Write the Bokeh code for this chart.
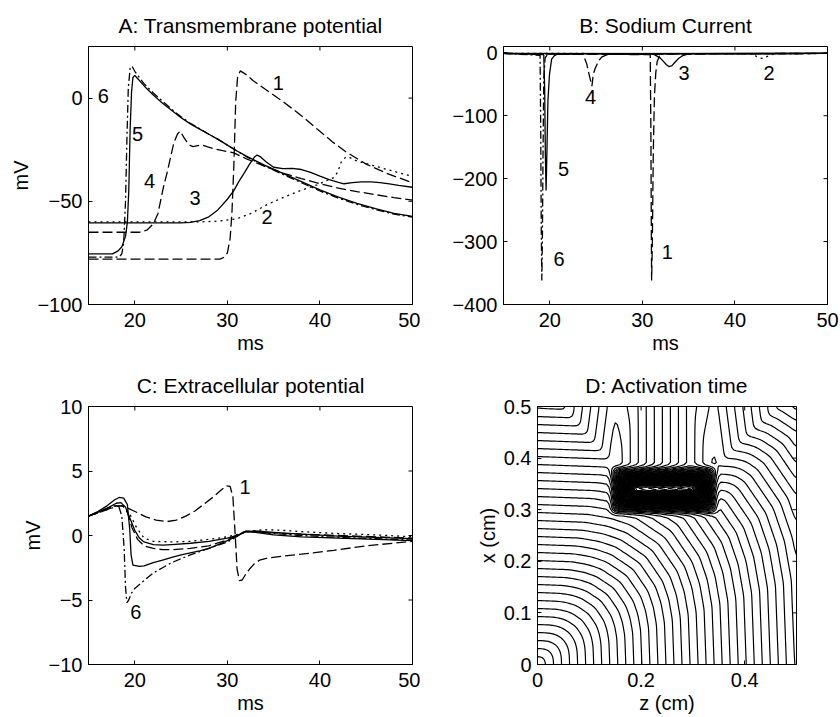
import heapq
import math
import numpy as np
from bokeh.plotting import figure
from bokeh.layouts import column, row
from bokeh.models import Range1d, FixedTicker
from bokeh.core.properties import value
from bokeh.embed import file_html
from bokeh.resources import INLINE

FONT = "Liberation Sans"
TICK_PX = "20px"
LABEL_PX = "20px"
TITLE_PX = "21px"
CURVE_PX = "20px"

# ---------------- shared time axis ----------------
t_ticks = [20, 30, 40, 50]
t_tick_labels = {20: "20", 30: "30", 40: "40", 50: "50"}

# ---------------- Panel A: transmembrane potential (mV) ----------------
A_y_ticks = [-100, -50, 0]
A_y_labels = {-100: "\u2212100", -50: "\u221250", 0: "0"}

A1_t = [15, 29.2, 29.7, 30.0, 30.3, 30.5, 30.7, 30.9, 31.1, 31.4, 32.0, 32.8, 34.5, 36.1, 38.0, 39.7, 41.3, 42.9, 45.0, 47.5, 50]
A1_v = [-78, -78, -77, -75, -68, -55, -33, -2, 10, 13.2, 11.5, 8.4, 3, -2, -8.5, -15, -21, -26.3, -32, -37, -41]
A2_t = [15, 27, 29, 31, 32.5, 34.3, 36.1, 37.9, 39.7, 41.5, 41.9, 42.3, 42.8, 43.3, 44, 46, 48, 50]
A2_v = [-60, -60, -59.6, -58.5, -56, -51.6, -48, -44.8, -42, -38.5, -36, -31, -28.5, -29, -30.5, -33, -35.5, -38]
A3_t = [15, 25, 26, 27, 28, 28.9, 30, 30.7, 31.3, 31.8, 32.4, 32.9, 33.2, 33.6, 34.2, 35, 36, 37, 38, 39, 40, 41, 42, 42.6, 43.5, 44.5, 45.5, 46.5, 47.5, 48.5, 50]
A3_v = [-60.5, -60.5, -60.2, -59.4, -57.5, -54.5, -49, -44.8, -40, -36.5, -32, -28.7, -27.6, -28.5, -31, -33.5, -34.2, -34, -34.6, -36, -37.8, -39.5, -40.8, -41.5, -41, -40.6, -40.6, -41, -41.6, -42.3, -43.2]
A4_t = [15, 20.5, 21.3, 22.0, 22.5, 23.1, 23.5, 23.85, 24.2, 24.6, 24.9, 25.3, 25.8, 26.3, 26.8, 27.3, 27.8, 28.5, 29.5, 30.7, 32, 34, 36, 38, 40, 42, 44, 46, 48, 50]
A4_v = [-65, -65, -64, -61, -56, -43, -36, -29, -22, -17.5, -16, -19, -22.5, -23.5, -23, -22.8, -23.5, -24.5, -25.5, -26.5, -29.3, -33, -36.3, -39, -41.5, -43.6, -45.3, -46.8, -48.2, -49.4]
A5_t = [15, 17.6, 18.2, 18.6, 19.0, 19.2, 19.35, 19.5, 19.65, 19.8, 20.0, 20.3, 20.7, 21.2, 22, 23, 24, 25, 26, 27, 28, 29, 30, 31, 32, 34, 36, 38, 40, 42, 44, 46, 48, 50]
A5_v = [-75.5, -75.5, -74, -72, -67, -60, -45, -15, 3, 10, 11, 9.5, 7.5, 5, 1.5, -2.5, -6, -9.5, -12.5, -15, -17.5, -20, -22.8, -25.5, -28, -32.5, -36.5, -40.5, -44.5, -48, -51, -53.5, -55.8, -57.3]
A6_t = [15, 18.3, 18.6, 18.8, 19.0, 19.15, 19.3, 19.5, 19.7, 20.0, 20.4, 21.0, 22, 23, 24, 25, 26, 27, 28, 29, 30, 31, 32, 34, 36, 38, 40, 42, 44, 46, 48, 50]
A6_v = [-77, -77, -75.5, -70, -50, -20, 5, 14.5, 15.5, 13, 10.5, 7, 2.5, -1.5, -5.5, -9, -12.2, -14.8, -17.5, -20, -22.8, -25.5, -28.2, -32.8, -37, -41, -45, -48.5, -51.5, -54, -56.2, -57.7]
A_lab_t = [35.5, 34.3, 26.5, 21.6, 20.3, 16.6]
A_lab_v = [7.4, -57.8, -48.2, -40.0, -17.2, 1.1]
A_lab_txt = ["1", "2", "3", "4", "5", "6"]

# ---------------- Panel B: sodium current ----------------
B_y_ticks = [-400, -300, -200, -100, 0]
B_y_labels = {-400: "\u2212400", -300: "\u2212300", -200: "\u2212200", -100: "\u2212100", 0: "0"}

B1_t = [15, 30.85, 30.92, 30.97, 31.0, 31.08, 31.18, 31.3, 31.45, 31.6, 31.85, 32.3, 50]
B1_v = [-1, -3, -120, -280, -362, -300, -160, -70, -32, -14, -5, -1.5, -1]
B2_t = [15, 41.6, 42.1, 42.6, 43.0, 43.4, 43.9, 44.5, 50]
B2_v = [-1, -1.5, -4, -8, -9, -6.5, -3, -1.5, -1]
B3_t = [15, 30.8, 31.3, 31.9, 32.3, 32.6, 32.9, 33.2, 33.5, 33.9, 34.3, 34.8, 35.5, 50]
B3_v = [-1, -1.2, -3, -8, -14, -19, -22, -20.5, -15.5, -9, -5, -2.6, -1.3, -1]
B4_t = [15, 23.6, 24.0, 24.3, 24.55, 24.7, 24.9, 25.1, 25.35, 25.6, 26.0, 26.5, 50]
B4_v = [-1, -2.6, -18, -38, -53, -34, -25, -18.5, -11.5, -7, -4, -2.6, -1]
B5_t = [15, 19.35, 19.45, 19.52, 19.6, 19.7, 19.8, 19.97, 20.2, 20.5, 20.76, 21.2, 50]
B5_v = [-1, -3, -60, -160, -219, -150, -76, -34, -10, -4.5, -2.6, -1.5, -1]
B6_t = [15, 18.95, 19.02, 19.08, 19.14, 19.2, 19.27, 19.35, 19.5, 19.8, 50]
B6_v = [-1, -4, -120, -280, -362, -300, -160, -40, -8, -2, -1]
B_lab_t = [32.7, 43.7, 34.5, 24.4, 21.5, 21.0]
B_lab_v = [-317, -32, -32, -71, -185, -327]
B_lab_txt = ["1", "2", "3", "4", "5", "6"]

# ---------------- Panel C: extracellular potential (mV) ----------------
C_y_ticks = [-10, -5, 0, 5, 10]
C_y_labels = {-10: "\u221210", -5: "\u22125", 0: "0", 5: "5", 10: "10"}

C1_t = [15, 16, 17, 18, 18.6, 19.3, 20.2, 21.2, 22.3, 23.5, 24.5, 25.5, 26.5, 27.5, 28.5, 29.3, 29.9, 30.3, 30.6, 30.85, 31.05, 31.3, 31.6, 31.9, 32.4, 32.9, 33.5, 34.3, 36, 38, 41.5, 45, 50]
C1_v = [1.5, 1.8, 2.1, 2.3, 2.3, 2.1, 1.8, 1.45, 1.2, 1.08, 1.2, 1.5, 1.9, 2.45, 3.0, 3.5, 3.85, 3.8, 3.0, 0.0, -2.6, -3.5, -3.45, -3.1, -2.6, -2.2, -1.9, -1.75, -1.6, -1.45, -1.15, -0.8, -0.45]
C2_t = [15, 16, 17, 18, 18.8, 19.5, 20.2, 21, 22, 24, 26, 28, 30, 31.5, 32.5, 34, 36, 38, 42, 46, 50]
C2_v = [1.5, 1.75, 2.0, 2.25, 2.3, 1.6, 0.6, -0.2, -0.45, -0.5, -0.45, -0.3, -0.1, 0.15, 0.35, 0.45, 0.4, 0.3, 0.15, 0.05, -0.1]
C3_t = [15, 16, 17, 18, 18.5, 19, 19.5, 20, 20.5, 21, 22, 23, 24, 26, 28, 30, 31, 32, 33, 35, 38, 42, 46, 50]
C3_v = [1.5, 1.8, 2.1, 2.5, 2.55, 2.2, 1.3, 0.4, -0.2, -0.5, -0.7, -0.75, -0.7, -0.6, -0.45, -0.2, 0.0, 0.3, 0.35, 0.25, 0.1, -0.05, -0.15, -0.25]
C4_t = [15, 16, 17, 18, 18.7, 19.2, 19.7, 20.3, 21, 22, 23, 24, 26, 28, 30, 31, 32, 33, 35, 38, 42, 46, 50]
C4_v = [1.5, 1.75, 2.0, 2.3, 2.3, 1.8, 0.6, -0.3, -0.8, -1.0, -1.1, -1.1, -1.0, -0.8, -0.35, 0.0, 0.35, 0.3, 0.2, 0.1, 0.0, -0.1, -0.2]
C5_t = [15, 16, 17, 17.8, 18.3, 18.8, 19.2, 19.45, 19.6, 19.8, 20.5, 21, 22, 23, 24, 25, 26, 27, 28, 29, 30, 31, 32, 33, 35, 38, 42, 46, 50]
C5_v = [1.5, 1.85, 2.3, 2.75, 2.95, 2.9, 2.4, 0.5, -1.5, -2.3, -2.4, -2.35, -2.1, -1.9, -1.7, -1.5, -1.35, -1.2, -1.0, -0.7, -0.4, -0.05, 0.3, 0.25, 0.05, -0.1, -0.2, -0.3, -0.4]
C6_t = [15, 16, 17, 17.8, 18.3, 18.6, 18.85, 19.0, 19.15, 19.35, 19.6, 20, 21, 22, 23, 24, 25, 26, 27, 28, 29, 30, 31, 31.8, 33, 35, 38, 42, 46, 50]
C6_v = [1.5, 1.8, 2.1, 2.3, 2.2, 1.5, -1, -4, -5.2, -5.0, -4.5, -4.1, -3.5, -2.9, -2.5, -2.1, -1.8, -1.5, -1.25, -1.0, -0.75, -0.5, -0.1, 0.3, 0.3, 0.15, 0.0, -0.15, -0.25, -0.35]
C_lab_t = [31.9, 20.1]
C_lab_v = [3.75, -5.9]
C_lab_txt = ["1", "6"]

# ---------------- Panel D: activation time map parameters ----------------
D_size = 0.5
D_n = 121
D_x_ticks = [0, 0.2, 0.4]
D_x_labels = {0: "0", 0.2: "0.2", 0.4: "0.4"}
D_y_ticks = [0, 0.1, 0.2, 0.3, 0.4, 0.5]
D_y_labels = {0: "0", 0.1: "0.1", 0.2: "0.2", 0.3: "0.3", 0.4: "0.4", 0.5: "0.5"}
D_zone_z = (0.145, 0.345)      # slow (ischemic) zone, z extent (cm)
D_zone_x = (0.295, 0.38)       # slow zone, x extent (cm)
D_zone_speed = 0.055
D_fast_z = (0.15, 0.345)       # region above the zone with fast conduction along x
D_fast_x0 = 0.38
D_fast_vx = 8.0
D_norm_p = 3.0
D_smooth_r = 1
D_smooth_passes = 2
D_level_step = 0.0155

# line styles of the six traces
STYLE = {1: "10 4", 2: "2 4", 3: "solid", 4: "10 4", 5: "solid", 6: "8 3 2 3"}


def make_fig(title, xr, yr, w, h, bl, br, bt, bb, xt, xl, yt, yl, xlab, ylab):
    p = figure(width=w, height=h, x_range=Range1d(*xr), y_range=Range1d(*yr),
               output_backend="svg", toolbar_location=None, title=title,
               min_border_left=bl, min_border_right=br, min_border_top=bt, min_border_bottom=bb)
    p.title.text_font = FONT
    p.title.text_font_size = TITLE_PX
    p.title.text_font_style = "normal"
    p.title.align = "center"
    p.title.text_color = "black"
    p.title.standoff = 19
    p.grid.visible = False
    p.outline_line_color = "black"
    p.outline_line_alpha = 1.0
    p.outline_line_width = 1
    p.background_fill_color = "white"
    p.border_fill_color = "white"
    for ax, ticks, labs, lab, sto, lsto in [(p.xaxis[0], xt, xl, xlab, 8, 2),
                                            (p.yaxis[0], yt, yl, ylab, 6, 2)]:
        ax.ticker = FixedTicker(ticks=ticks)
        ax.major_label_overrides = labs
        ax.major_label_text_font = FONT
        ax.major_label_text_font_size = TICK_PX
        ax.major_label_text_color = "black"
        ax.major_tick_in = 4
        ax.major_tick_out = 0
        ax.minor_tick_line_color = None
        ax.major_label_standoff = sto
        ax.axis_line_color = "black"
        ax.major_tick_line_color = "black"
        ax.axis_label = lab
        ax.axis_label_text_font = FONT
        ax.axis_label_text_font_size = LABEL_PX
        ax.axis_label_text_font_style = "normal"
        ax.axis_label_text_color = "black"
        ax.axis_label_standoff = lsto
    # inward ticks on the top and right edges of the box
    p.ray(x=xt, y=[yr[1]] * len(xt), length=4, length_units="screen",
          angle=-math.pi / 2, line_color="black", line_width=1)
    p.ray(x=[xr[1]] * len(yt), y=yt, length=4, length_units="screen",
          angle=math.pi, line_color="black", line_width=1)
    return p


def add_curves(p, series):
    for k, (t, v) in series.items():
        st = STYLE[k]
        if st == "solid":
            p.line(t, v, line_color="black", line_width=1.3)
        else:
            p.line(t, v, line_color="black", line_width=1.3, line_dash=st)


def add_labels(p, xs, ys, txt):
    p.text(x=xs, y=ys, text=txt, text_font=value(FONT), text_font_size=CURVE_PX,
           text_align="center", text_baseline="middle", text_color="black")


def box_smooth(a, r, passes):
    out = a.copy()
    n0, n1 = a.shape
    for _ in range(passes):
        pad = np.pad(out, r, mode="edge")
        acc = np.zeros_like(out)
        for di in range(-r, r + 1):
            for dj in range(-r, r + 1):
                acc += pad[r + di:r + di + n0, r + dj:r + dj + n1]
        out = acc / float((2 * r + 1) ** 2)
    return out


def activation_map():
    n = D_n
    g = np.linspace(0.0, D_size, n)
    Zg, Xg = np.meshgrid(g, g)
    vz = np.ones((n, n))
    vx = np.ones((n, n))
    zone = (Zg >= D_zone_z[0]) & (Zg <= D_zone_z[1]) & (Xg >= D_zone_x[0]) & (Xg <= D_zone_x[1])
    vz[zone] = D_zone_speed
    vx[zone] = D_zone_speed
    fast = (Zg >= D_fast_z[0]) & (Zg <= D_fast_z[1]) & (Xg > D_fast_x0)
    vx[fast] = D_fast_vx
    hs = D_size / (n - 1)
    base = [(1, 0), (1, 1), (1, 2), (2, 1), (1, 3), (3, 1), (2, 3), (3, 2)]
    offs = set()
    for a, b in base:
        for sa in (1, -1):
            for sb in (1, -1):
                offs.add((sa * a, sb * b))
                offs.add((sb * b, sa * a))
    offs = sorted(offs)
    P = D_norm_p
    costs = []
    for di, dj in offs:
        c = ((abs(dj) * hs / vz) ** P + (abs(di) * hs / vx) ** P) ** (1.0 / P)
        costs.append(c.ravel().tolist())
    N2 = n * n
    T = [float("inf")] * N2
    done = [False] * N2
    T[0] = 0.0
    heap = [(0.0, 0)]
    while heap:
        t, k = heapq.heappop(heap)
        if done[k]:
            continue
        done[k] = True
        i, j = divmod(k, n)
        for m, (di, dj) in enumerate(offs):
            i2 = i + di
            j2 = j + dj
            if 0 <= i2 < n and 0 <= j2 < n:
                k2 = i2 * n + j2
                if not done[k2]:
                    nt = t + 0.5 * (costs[m][k] + costs[m][k2])
                    if nt < T[k2]:
                        T[k2] = nt
                        heapq.heappush(heap, (nt, k2))
    Tm = np.array(T).reshape(n, n)
    return g, box_smooth(Tm, D_smooth_r, D_smooth_passes)


# ---------------- figures ----------------
pA = make_fig("A: Transmembrane potential", (15, 50), (-100, 25), 420, 358, 88, 8, 46, 54,
              t_ticks, t_tick_labels, A_y_ticks, A_y_labels, "ms", "mV")
add_curves(pA, {1: (A1_t, A1_v), 2: (A2_t, A2_v), 3: (A3_t, A3_v), 4: (A4_t, A4_v),
                5: (A5_t, A5_v), 6: (A6_t, A6_v)})
add_labels(pA, A_lab_t, A_lab_v, A_lab_txt)

pB = make_fig("B: Sodium Current", (15, 50), (-400, 10), 420, 358, 83, 13, 46, 54,
              t_ticks, t_tick_labels, B_y_ticks, B_y_labels, "ms", "")
add_curves(pB, {1: (B1_t, B1_v), 2: (B2_t, B2_v), 3: (B3_t, B3_v), 4: (B4_t, B4_v),
                5: (B5_t, B5_v), 6: (B6_t, B6_v)})
add_labels(pB, B_lab_t, B_lab_v, B_lab_txt)

pC = make_fig("C: Extracellular potential", (15, 50), (-10, 10), 420, 359, 88, 8, 48, 53,
              t_ticks, t_tick_labels, C_y_ticks, C_y_labels, "ms", "mV")
add_curves(pC, {1: (C1_t, C1_v), 2: (C2_t, C2_v), 3: (C3_t, C3_v), 4: (C4_t, C4_v),
                5: (C5_t, C5_v), 6: (C6_t, C6_v)})
add_labels(pC, C_lab_t, C_lab_v, C_lab_txt)

pD = make_fig("D: Activation time", (0, D_size), (0, D_size), 420, 359, 117, 44, 48, 53,
              D_x_ticks, D_x_labels, D_y_ticks, D_y_labels, "z (cm)", "x (cm)")
grid, Tmap = activation_map()
levels = np.arange(D_level_step, float(Tmap.max()), D_level_step)
pD.contour(x=grid, y=grid, z=Tmap, levels=levels, line_color="black", line_width=1.2)

layout = column(row(pA, pB), row(pC, pD))
open("out.html", "w").write(file_html(layout, INLINE))
